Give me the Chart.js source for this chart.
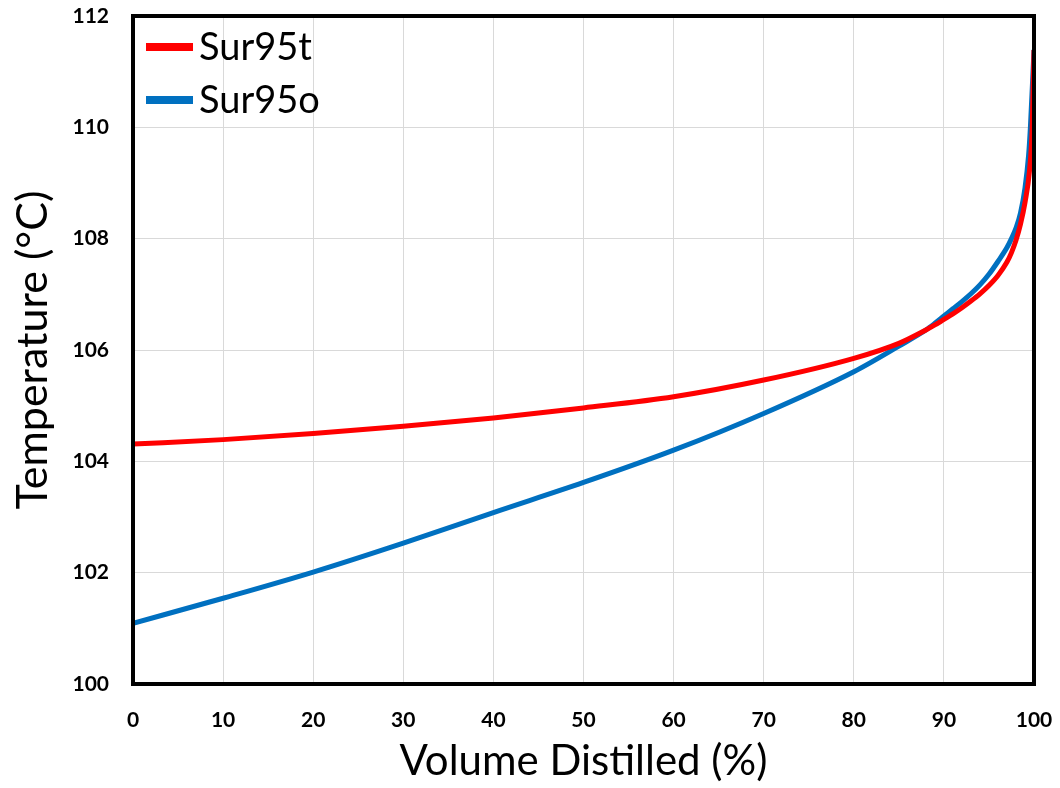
<!DOCTYPE html>
<html>
<head>
<meta charset="utf-8">
<script src="https://cdn.jsdelivr.net/npm/chart.js@4"></script>
<style>
  html, body { margin: 0; padding: 0; background: #fff; }
  #wrap { width: 1060px; height: 788px; position: relative; }
</style>
</head>
<body>
<div id="wrap"><canvas id="c" width="1060" height="788"></canvas></div>
<script>
// ---- data ----
const seriesNames = ["Sur95t", "Sur95o"];
const volT  = [0, 10, 20, 30, 40, 50, 60, 70, 80, 85, 88, 89, 90, 91, 92, 93, 94, 95, 96, 97, 97.5, 98, 98.5, 99, 99.5, 99.8, 100];
const tempT = [104.31, 104.39, 104.50, 104.63, 104.78, 104.96, 105.16, 105.46, 105.85, 106.12, 106.36, 106.45, 106.55, 106.65, 106.76, 106.88, 107.01, 107.16, 107.34, 107.58, 107.75, 107.97, 108.26, 108.65, 109.22, 110.0, 111.39];
const volO  = [0, 10, 20, 30, 40, 50, 60, 70, 80, 85, 88, 89, 90, 91, 92, 93, 94, 95, 96, 97, 97.5, 98, 98.5, 99, 99.4, 99.6, 100];
const tempO = [101.09, 101.54, 102.01, 102.53, 103.08, 103.62, 104.20, 104.86, 105.61, 106.07, 106.36, 106.48, 106.61, 106.74, 106.87, 107.01, 107.17, 107.36, 107.59, 107.84, 108.00, 108.19, 108.46, 108.91, 109.50, 110.0, 111.39];
const xTicks = [0, 10, 20, 30, 40, 50, 60, 70, 80, 90, 100];
const yTicks = [100, 102, 104, 106, 108, 110, 112];

const FONT = "Lato, 'Open Sans', sans-serif";

const toPts = (xs, ys) => xs.map((x, i) => ({ x: x, y: ys[i] }));

const borderPlugin = {
  id: 'frame',
  afterDraw(chart) {
    const a = chart.chartArea, ctx = chart.ctx;
    ctx.save();
    ctx.strokeStyle = '#000';
    ctx.lineWidth = 4;
    ctx.strokeRect(a.left, a.top, a.right - a.left, a.bottom - a.top);
    ctx.restore();
  }
};

const legendPlugin = {
  id: 'innerLegend',
  afterDraw(chart) {
    const a = chart.chartArea, ctx = chart.ctx;
    ctx.save();
    chart.data.datasets.forEach((ds, i) => {
      const y = a.top + 31 + i * 53;
      ctx.strokeStyle = ds.borderColor;
      ctx.lineWidth = 8;
      ctx.beginPath();
      ctx.moveTo(a.left + 13, y);
      ctx.lineTo(a.left + 60, y);
      ctx.stroke();
      ctx.fillStyle = '#000';
      ctx.font = "38px " + FONT;
      ctx.textBaseline = 'middle';
      ctx.textAlign = 'left';
      ctx.fillText(ds.label, a.left + 66, y + 1);
    });
    ctx.restore();
  }
};

new Chart(document.getElementById('c'), {
  type: 'line',
  data: {
    datasets: [
      { label: seriesNames[0], data: toPts(volT, tempT), borderColor: '#FF0000', borderWidth: 5, pointRadius: 0, cubicInterpolationMode: 'monotone', fill: false },
      { label: seriesNames[1], data: toPts(volO, tempO), borderColor: '#0070C0', borderWidth: 5, pointRadius: 0, cubicInterpolationMode: 'monotone', fill: false }
    ]
  },
  options: {
    responsive: false,
    animation: false,
    layout: { padding: { left: 0, top: 16, right: 26, bottom: 0 } },
    plugins: { legend: { display: false }, tooltip: { enabled: false } },
    scales: {
      x: {
        type: 'linear', min: 0, max: 100,
        afterBuildTicks(s) { s.ticks = xTicks.map(v => ({ value: v })); },
        afterFit(s) { s.height = 104; s.paddingLeft = 0; s.paddingRight = 0; },
        grid: { color: '#d9d9d9', lineWidth: 1, drawTicks: false },
        border: { display: false },
        ticks: { color: '#000', font: { family: FONT, size: 21, weight: 'bold' }, padding: 24, maxRotation: 0 },
        title: { display: true, text: 'Volume Distilled (%)', color: '#000', font: { family: FONT, size: 42 }, padding: { top: 0, bottom: 1 } }
      },
      y: {
        type: 'linear', min: 100, max: 112,
        afterBuildTicks(s) { s.ticks = yTicks.map(v => ({ value: v })); },
        afterFit(s) { s.width = 133; s.paddingTop = 0; s.paddingBottom = 0; },
        grid: { color: '#d9d9d9', lineWidth: 1, drawTicks: false },
        border: { display: false },
        ticks: { color: '#000', font: { family: FONT, size: 21, weight: 'bold' }, padding: 24 },
        title: { display: true, text: 'Temperature (°C)', color: '#000', font: { family: FONT, size: 43 }, padding: { top: 7, bottom: 0 } }
      }
    }
  },
  plugins: [borderPlugin, legendPlugin]
});
</script>
</body>
</html>
